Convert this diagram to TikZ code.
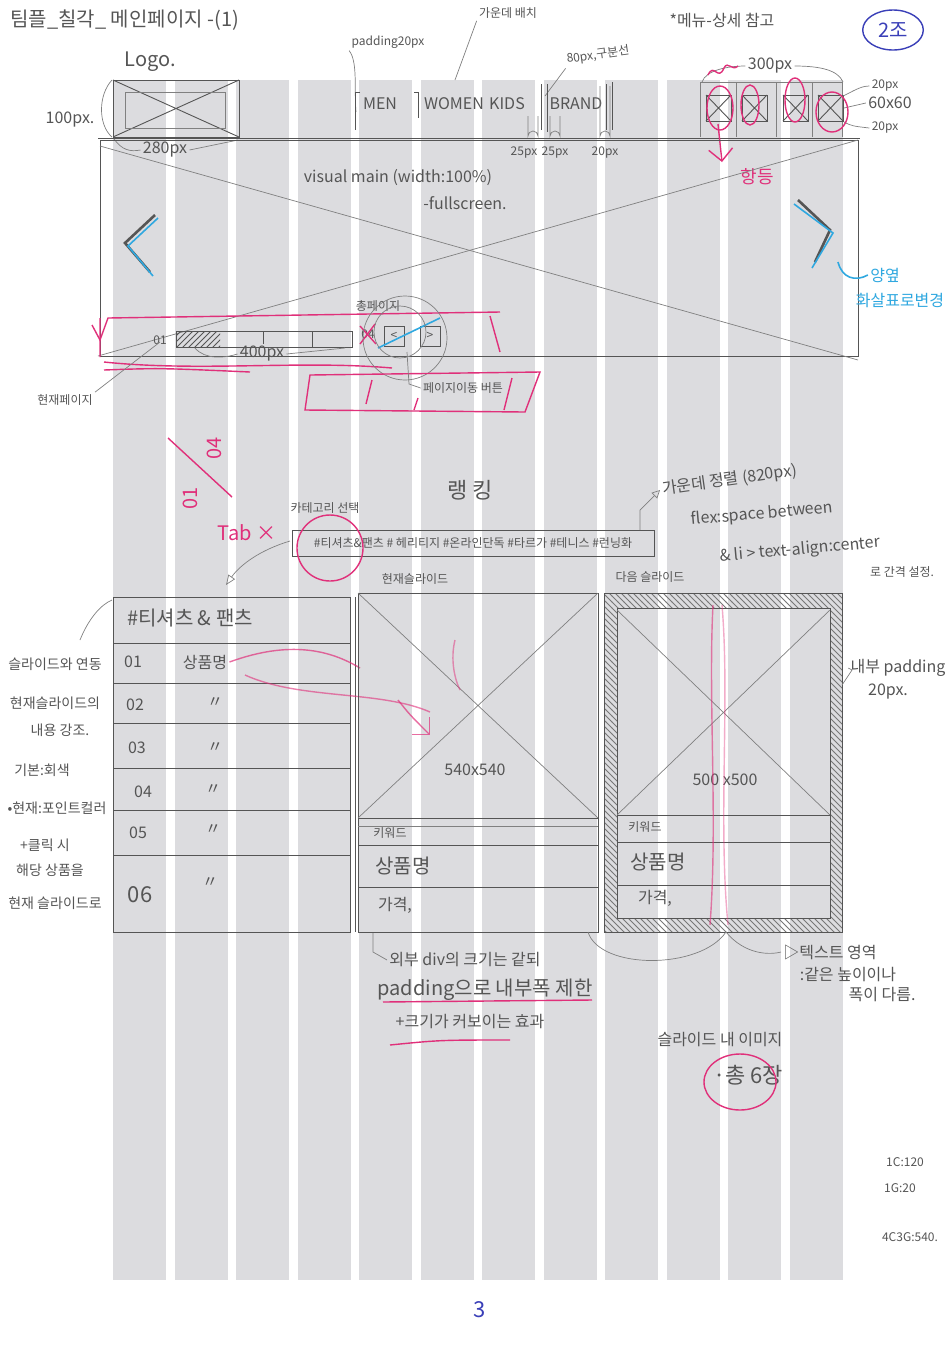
\documentclass[tikz,border=0pt]{standalone}
\usepackage{fontspec}
\setmainfont{Noto Sans CJK KR}
\usetikzlibrary{patterns,arrows.meta,shapes.geometric}
\definecolor{pen}{HTML}{555555}
\definecolor{stripe}{HTML}{DCDCDF}
\definecolor{pinkred}{HTML}{E0307A}
\definecolor{bluepen}{HTML}{3A3FB8}
\definecolor{cyanpen}{HTML}{2FA8E0}
\tikzset{
  pencil/.style={draw=pen,line width=0.45pt},
  faint/.style={draw=pen!75,line width=0.35pt},
  redline/.style={draw=pinkred,line width=0.7pt},
  cyanline/.style={draw=cyanpen,line width=0.8pt},
  txt/.style={text=pen,inner sep=1pt,font=\fontsize{8}{9}\selectfont},
  leftnote/.style={text=pen,inner sep=1pt,font=\fontsize{7}{8}\selectfont},
  tinytxt/.style={text=pen,inner sep=1pt,font=\fontsize{6}{7}\selectfont},
  bigtxt/.style={text=pen,inner sep=1pt,font=\fontsize{10}{11}\selectfont},
  redtxt/.style={text=pinkred,inner sep=1pt,font=\fontsize{9}{10}\selectfont},
  cyantxt/.style={text=cyanpen,inner sep=1pt,font=\fontsize{8}{9}\selectfont},
}
\begin{document}
\begin{tikzpicture}[x=0.5pt,y=-0.5pt]
\useasboundingbox (0,0) rectangle (952,1346);
\fill[white] (0,0) rectangle (952,1346);
% grid stripes
\foreach \i in {0,...,11}
  \fill[stripe] ({113+61.5*\i},80) rectangle ({166+61.5*\i},1280);

% ---------- title and top notes
\node[bigtxt,anchor=west] (title) at (8,20) {팀플\_칠각\_ 메인페이지 -(1)};
\node[draw=bluepen,line width=0.7pt,ellipse,minimum width=29pt,minimum height=20pt,text=bluepen,font=\fontsize{10}{11}\selectfont] (team) at (893,30) {2조};
\node[txt] (menunote) at (722,20) {*메뉴-상세 참고};
\node[tinytxt] (center) at (508,13) {가운데 배치};
\node[tinytxt] (pad) at (388,42) {padding20px};
\node[tinytxt,rotate=8] (sep) at (598,55) {80px,구분선};
\coordinate (menuc) at (455,80);
\draw[faint] (menuc) -- (center.south west);
\coordinate (padend) at (356,112);
\draw[faint] (pad.south west) .. controls (358,62) and (354,90) .. (padend);
\coordinate (sepend) at (545,96);
\draw[faint] (sep.south west) -- (sepend);

% ---------- header
\draw[pencil] (98,138) -- (860,138);
\draw[pencil] (113,80) rectangle (239,137);
\draw[pencil] (113,80) -- (239,137) (113,137) -- (239,80);
\draw[faint] (125,92) rectangle (225,128);
\node[bigtxt] (logo) at (150,62) {Logo.};
\node[txt] (h100) at (70,120) {100px.};
\draw[faint] (112,80) .. controls (98,95) and (98,125) .. (112,137);
\node[txt] (w280) at (165,150) {280px};
\coordinate (lgl) at (114,139);
\coordinate (lgr) at (238,140);
\draw[faint] (lgl) .. controls (122,150) and (130,152) .. (w280.west);
\draw[faint] (w280.east) -- (lgr);

% menu
\node[txt] (men) at (380,104) {MEN};
\node[txt] (women) at (454,104) {WOMEN};
\node[txt] (kids) at (507,104) {KIDS};
\node[txt] (brand) at (576,104) {BRAND};
\draw[pencil] (360,92) -- (355,92) -- (355,130);
\draw[pencil] (414,92) -- (418,92) -- (418,118);
\draw[pencil] (541,84) -- (541,130) (547,84) -- (547,132);
\draw[pencil] (606,84) -- (606,130) (612,82) -- (612,130);
\draw[faint] (528,116) -- (528,136) arc (180:360:5) -- (538,116);
\draw[faint] (550,116) -- (550,136) arc (180:360:5) -- (560,116);
\draw[faint] (600,86) -- (600,136) arc (180:360:5) -- (610,86);
\node[tinytxt] (p25a) at (524,153) {25px};
\node[tinytxt] (p25b) at (555,153) {25px};
\node[tinytxt] (p20) at (605,153) {20px};

% icons
\draw[faint] (700,82) -- (842,82);
\foreach \xa in {700,736,776,812,842} \draw[faint] (\xa,82) -- (\xa,137);
\foreach \xa in {706,742,783,818}{
  \draw[pencil] (\xa,95) rectangle (\xa+25,121);
  \draw[pencil] (\xa,95) -- (\xa+25,121) (\xa,121) -- (\xa+25,95);
}
\node[txt] (w300) at (770,66) {300px};
\coordinate (icl) at (702,82);
\coordinate (icr) at (843,82);
\draw[faint] (icl) .. controls (706,70) and (728,66) .. (w300.west);
\draw[faint] (w300.east) .. controls (820,66) and (838,70) .. (icr);
\node[tinytxt] (ip1) at (885,86) {20px};
\node[txt] (i60) at (890,103) {60x60};
\node[tinytxt] (ip2) at (885,128) {20px};
\draw[faint] (843,96) .. controls (852,92) and (860,86) .. (ip1.west);
\draw[faint] (844,108) -- (i60.west);
\draw[faint] (844,122) .. controls (852,126) .. (ip2.west);
% red marks on icons
\draw[redline] (720,108) ellipse (13 and 22);
\draw[redline] (750,105) ellipse (9 and 20);
\draw[redline] (795,100) ellipse (10 and 22);
\draw[redline] (832,112) ellipse (16 and 20);
\draw[redline] (708,75) .. controls (714,62) and (718,82) .. (724,68) .. controls (728,60) and (732,72) .. (738,66);
\coordinate (redarrtop) at (718,124);
\coordinate (redarrbot) at (722,162);
\draw[redline,-{Straight Barb[length=6pt]}] (redarrtop) -- (redarrbot);
\node[redtxt] (hang) at (757,177) {항등};

% ---------- hero visual
\draw[pencil] (100,140) rectangle (858,356);
\draw[faint] (100,146) -- (858,360);
\draw[faint] (98,356) -- (858,140);
\node[txt] (visual) at (398,178) {visual main (width:100\%)};
\node[txt] (fulls) at (465,203) {-fullscreen.};
\draw[pen,line width=1.3pt] (155,215) -- (125,243) -- (150,272);
\draw[cyanline] (158,218) -- (128,246) -- (153,276);
\draw[pen,line width=1.3pt] (798,200) -- (830,230) -- (815,262);
\draw[cyanline] (794,204) -- (833,233) -- (812,268);
\node[cyantxt] (yang) at (885,275) {양옆};
\node[cyantxt] (hwa) at (900,300) {화살표로변경};
\coordinate (rarr) at (838,262);
\draw[cyanline] (rarr) .. controls (842,278) and (855,282) .. (yang.west);

% pagination
\draw[redline] (92,325) -- (100,340) -- (108,318) -- (500,312);
\draw[redline] (100,318) -- (100,357) (490,316) -- (500,352);
\draw[redline] (104,362) .. controls (200,372) and (300,360) .. (392,368);
\draw[redline] (104,370) .. controls (160,368) .. (250,372);
\node[tinytxt] (p01) at (160,340) {01};
\draw[pencil] (176,331) rectangle (352,347);
\fill[pattern=north east lines,pattern color=pen] (176,331) rectangle (220,347);
\draw[pencil] (263,331) -- (263,344) (312,331) -- (312,347);
\node[txt] (p400) at (262,354) {400px};
\draw[faint] (195,348) .. controls (205,360) and (225,358) .. (p400.west);
\draw[faint] (p400.east) -- (345,348);
\node[tinytxt] (p04) at (368,334) {04};
\draw[redline] (360,326) -- (376,344) (375,324) -- (360,344);
\node[pencil,minimum width=10pt,minimum height=10pt,inner sep=0pt,text=pen,font=\fontsize{6}{7}\selectfont] (prevbtn) at (394,336) {<};
\node[pencil,minimum width=10pt,minimum height=10pt,inner sep=0pt,text=pen,font=\fontsize{6}{7}\selectfont] (nextbtn) at (430,336) {>};
\draw[cyanline] (378,348) -- (440,318);
\node[tinytxt] (total) at (378,306) {총페이지};
\draw[faint] (400,332) circle (26);
\draw[faint] (405,338) circle (42);
\draw[redline] (310,375) -- (540,372) -- (525,412) -- (305,410) -- cycle;
\draw[redline] (372,380) -- (366,404) (418,398) -- (414,410) (512,378) -- (504,410);
\node[tinytxt] (pgbtn) at (463,388) {페이지이동 버튼};
\coordinate (pgbtnsrc) at (407,352);
\draw[faint] (pgbtnsrc) -- (409,384) -- (pgbtn.west);
\node[tinytxt] (curpage) at (65,400) {현재페이지};
\coordinate (curpagetgt) at (160,342);
\draw[faint] (curpage.north east) -- (curpagetgt);

% red 01/04 and Tab
\node[text=pinkred,font=\fontsize{10}{11}\selectfont,rotate=90,inner sep=0pt] (fracnum) at (190,498) {01};
\node[text=pinkred,font=\fontsize{10}{11}\selectfont,rotate=90,inner sep=0pt] (fracden) at (214,448) {04};
\coordinate (slashtop) at (168,438);
\coordinate (slashbot) at (232,497);
\draw[redline] (slashtop) -- (slashbot);
\node[text=pinkred,font=\fontsize{10}{11}\selectfont] (tab) at (247,533) {Tab ×};

% ---------- ranking
\node[font=\fontsize{11}{12}\selectfont,text=pen] (rank) at (470,490) {랭 킹};
\node[tinytxt] (catsel) at (325,508) {카테고리 선택};
\node[pencil,text=pen,minimum width=181pt,minimum height=13pt,inner sep=1pt,font=\fontsize{6}{7}\selectfont] (tabbar) at (473,543) {\#티셔츠\&팬츠 \# 헤리티지 \#온라인단독 \#타르가 \#테니스 \#런닝화};
\draw[redline] (330,548) circle (33);
\coordinate (tabarrow) at (226,585);
\draw[faint,-{Triangle[open,length=5pt]}] (290,541) .. controls (260,550) and (240,565) .. (tabarrow);
\node[txt,rotate=8,anchor=west] (centeralign) at (660,490) {가운데 정렬 (820px)};
\draw[faint,-{Triangle[open,length=4pt]}] (640,530) -- (640,510) -- (centeralign.west);
\node[txt,rotate=5] (flex) at (762,514) {flex:space between};
\node[txt,rotate=5] (li) at (800,550) {\& li > text-align:center};
\node[tinytxt] (gap) at (902,572) {로 간격 설정.};

% ranking list
\draw[pencil] (113,597) rectangle (350,932);
\draw[pencil] (355,597) -- (355,932);
\foreach \yy in {643,683,723,768,810,855} \draw[pencil] (113,\yy) -- (350,\yy);
\node[bigtxt] (rhead) at (190,618) {\#티셔츠 \& 팬츠};
\node[txt] (r1) at (133,662) {01};
\node[txt] (r1t) at (205,662) {상품명};
\node[txt] (r2) at (135,705) {02};
\node[txt] (r2t) at (215,703) {〃};
\node[txt] (r3) at (137,748) {03};
\node[txt] (r3t) at (215,748) {〃};
\node[txt] (r4) at (143,792) {04};
\node[txt] (r4t) at (213,790) {〃};
\node[txt] (r5) at (138,833) {05};
\node[txt] (r5t) at (213,830) {〃};
\node[font=\fontsize{11}{12}\selectfont,text=pen] (r6) at (140,895) {06};
\node[txt] (r6t) at (210,883) {〃};
% left notes
\node[leftnote] (n1) at (55,664) {슬라이드와 연동};
\node[leftnote] (n2) at (55,703) {현재슬라이드의};
\node[leftnote] (n3) at (60,730) {내용 강조.};
\node[leftnote] (n4) at (42,770) {기본:회색};
\node[leftnote] (n5) at (57,808) {•현재:포인트컬러};
\node[leftnote] (n6) at (45,845) {+클릭 시};
\node[leftnote] (n7) at (50,870) {해당 상품을};
\node[leftnote] (n8) at (55,903) {현재 슬라이드로};
\coordinate (listtl) at (112,600);
\draw[faint] (80,640) .. controls (88,620) and (100,605) .. (listtl);
\draw[redline,opacity=0.7] (r1t.east) .. controls (290,640) and (330,650) .. (360,668);
\draw[redline,opacity=0.6] (245,675) .. controls (300,700) and (380,690) .. (430,712);

% current slide
\node[tinytxt] (curslide) at (415,579) {현재슬라이드};
\draw[pencil] (358,593) rectangle (598,932);
\draw[faint] (358,593) -- (598,818) (598,593) -- (358,818);
\draw[pencil] (358,818) -- (598,818);
\draw[faint] (358,826) -- (598,826);
\draw[pencil] (358,845) -- (598,845) (358,887) -- (598,887);
\node[txt] (c540) at (475,770) {540x540};
\node[tinytxt] (ckw) at (390,833) {키워드};
\node[bigtxt] (cname) at (403,866) {상품명};
\node[txt] (cprice) at (395,905) {가격,};
\draw[redline,opacity=0.7,-{Straight Barb[length=6pt]}] (398,700) .. controls (410,715) .. (430,735);
\draw[redline,opacity=0.5] (455,640) .. controls (450,660) and (455,680) .. (460,690);

% next slide
\node[tinytxt] (nextslide) at (650,577) {다음 슬라이드};
\fill[pattern=north west lines,pattern color=pen!80,even odd rule] (604,593) rectangle (842,932) (617,608) rectangle (830,918);
\draw[pencil] (604,593) rectangle (842,932);
\draw[pencil] (617,608) rectangle (830,918);
\draw[faint] (617,610) -- (830,815) (830,610) -- (617,815);
\draw[pencil] (617,815) -- (830,815) (617,842) -- (830,842) (617,885) -- (830,885);
\node[txt] (n500) at (725,780) {500 x500};
\node[tinytxt] (nkw) at (645,827) {키워드};
\node[bigtxt] (nname) at (658,862) {상품명};
\node[txt] (nprice) at (655,898) {가격,};
\draw[redline,opacity=0.6] (713,605) .. controls (708,700) and (718,820) .. (710,925);
\draw[redline,opacity=0.4] (722,605) .. controls (730,700) and (718,820) .. (728,925);
\node[txt] (inpad) at (898,668) {내부 padding};
\node[txt] (inpad2) at (888,692) {20px.};
\coordinate (padsrc) at (842,685);
\draw[faint] (padsrc) -- (852,670) -- (inpad.west);

% notes below slides
\coordinate (outerdivsrc) at (373,933);
\node[txt] (outer1) at (465,960) {외부 div의 크기는 같되};
\node[bigtxt] (outer2) at (485,990) {padding으로 내부폭 제한};
\node[txt] (outer3) at (470,1022) {+크기가 커보이는 효과};
\draw[faint] (outerdivsrc) -- (373,952) -- (outer1.west);
\draw[redline] (383,1002) -- (592,1000);
\draw[redline] (390,1045) .. controls (440,1040) .. (510,1040);
\node[txt] (textarea) at (830,952) {▷텍스트 영역};
\node[txt] (same1) at (848,975) {:같은 높이이나};
\node[txt] (same2) at (882,995) {폭이 다름.};
\coordinate (arcL) at (588,932);
\coordinate (arcR) at (726,932);
\draw[faint] (arcL) .. controls (600,970) and (700,970) .. (arcR);
\draw[faint] (arcR) .. controls (745,955) and (770,955) .. (textarea.west);
\node[txt] (slideimg) at (720,1040) {슬라이드 내 이미지};
\node[font=\fontsize{11}{12}\selectfont,text=pen] (six) at (748,1075) {·총 6장};
\draw[redline] (740,1082) ellipse (36 and 28);

% bottom right
\node[tinytxt] (g1) at (905,1162) {1C:120};
\node[tinytxt] (g2) at (900,1188) {1G:20};
\node[tinytxt] (g3) at (910,1237) {4C3G:540.};
\node[text=bluepen,font=\fontsize{11}{12}\selectfont] (pageno) at (480,1310) {3};
\end{tikzpicture}
\end{document}
